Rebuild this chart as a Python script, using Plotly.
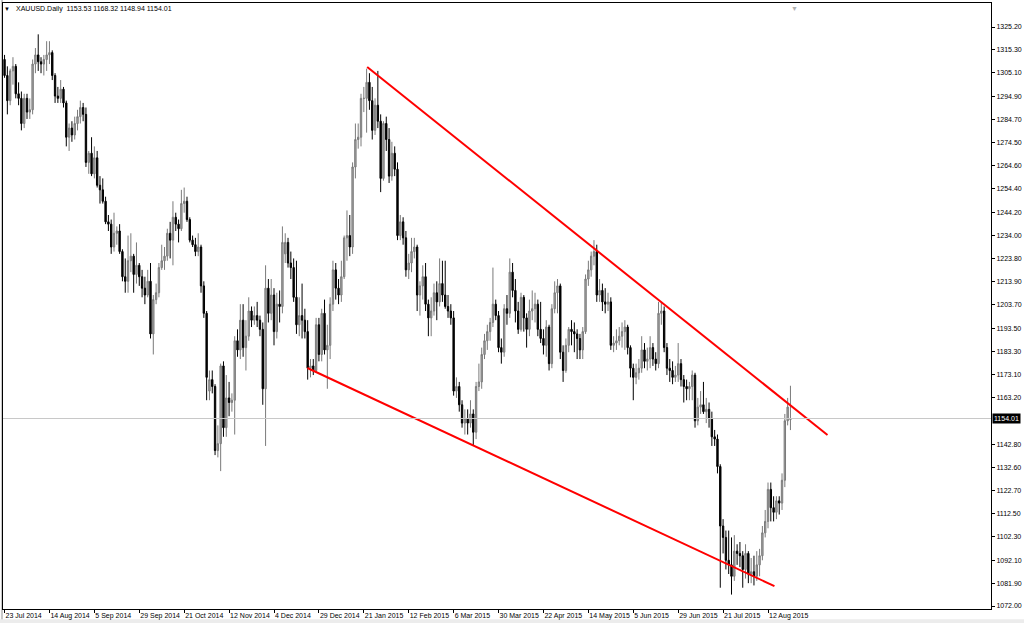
import plotly.graph_objects as go

# XAUUSD daily candles, 23 Jul 2014 .. 24 Aug 2015 (bar index = trading day)
open_ = [
    1311, 1304, 1293, 1306, 1308, 1296, 1294, 1283, 1294, 1288,
    1289, 1309, 1313, 1310, 1309, 1311, 1313, 1314, 1304, 1295,
    1294, 1298, 1292, 1277, 1281, 1278, 1283, 1286, 1290, 1287,
    1266, 1270, 1261, 1268, 1256, 1254, 1249, 1240, 1239, 1229,
    1235, 1236, 1227, 1216, 1214, 1223, 1225, 1217, 1221, 1216,
    1211, 1208, 1214, 1191, 1206, 1209, 1220, 1223, 1225, 1235,
    1232, 1242, 1239, 1237, 1248, 1249, 1241, 1232, 1230, 1227,
    1229, 1212, 1200, 1166, 1171, 1168, 1140, 1143, 1177, 1150,
    1163, 1161, 1162, 1188, 1184, 1197, 1185, 1190, 1201, 1197,
    1199, 1197, 1193, 1167, 1211, 1200, 1208, 1192, 1204, 1203,
    1226, 1231, 1222, 1220, 1207, 1195, 1199, 1197, 1192, 1176,
    1177, 1175, 1195, 1182, 1200, 1184, 1186, 1204, 1219, 1211,
    1208, 1216, 1233, 1234, 1229, 1264, 1276, 1277, 1294, 1294,
    1301, 1293, 1280, 1291, 1284, 1259, 1283, 1276, 1260, 1270,
    1263, 1234, 1240, 1233, 1219, 1222, 1227, 1229, 1208, 1212,
    1216, 1204, 1198, 1201, 1209, 1205, 1213, 1208, 1203, 1201,
    1198, 1166, 1168, 1160, 1152, 1154, 1152, 1156, 1148, 1168,
    1170, 1182, 1188, 1192, 1196, 1204, 1199, 1185, 1183, 1202,
    1200, 1218, 1210, 1201, 1193, 1207, 1198, 1193, 1201, 1202,
    1204, 1193, 1189, 1186, 1194, 1178, 1202, 1209, 1212, 1183,
    1175, 1186, 1193, 1192, 1191, 1189, 1184, 1192, 1215, 1219,
    1225, 1227, 1208, 1210, 1205, 1204, 1205, 1186, 1187, 1188,
    1190, 1192, 1194, 1185, 1176, 1172, 1174, 1176, 1184, 1179,
    1180, 1185, 1180, 1178, 1200, 1201, 1185, 1176, 1175, 1172,
    1173, 1178, 1171, 1168, 1167, 1168, 1173, 1153, 1159, 1160,
    1157, 1158, 1154, 1146, 1145, 1133, 1107, 1102, 1092, 1090,
    1085, 1096, 1095, 1094, 1088, 1095, 1086, 1087, 1085, 1090,
    1094, 1104, 1109, 1123, 1115, 1113, 1118, 1117, 1127, 1153,
    1153.53,
]
high = [
    1313, 1308, 1307, 1312, 1309, 1301, 1297, 1296, 1296, 1294,
    1311, 1316, 1322, 1312, 1313, 1319, 1319, 1315, 1305, 1299,
    1302, 1299, 1293, 1283, 1284, 1286, 1289, 1293, 1292, 1290,
    1271, 1277, 1273, 1271, 1260, 1259, 1251, 1243, 1241, 1244,
    1238, 1239, 1228, 1224, 1234, 1235, 1226, 1231, 1222, 1219,
    1216, 1219, 1222, 1208, 1213, 1222, 1230, 1229, 1237, 1240,
    1249, 1244, 1241, 1254, 1255, 1251, 1242, 1234, 1233, 1235,
    1230, 1214, 1201, 1175, 1175, 1169, 1151, 1178, 1179, 1173,
    1170, 1165, 1190, 1193, 1204, 1204, 1197, 1207, 1203, 1203,
    1205, 1199, 1196, 1221, 1215, 1215, 1211, 1209, 1210, 1238,
    1235, 1233, 1227, 1224, 1223, 1207, 1213, 1202, 1197, 1180,
    1180, 1198, 1198, 1202, 1206, 1195, 1207, 1223, 1222, 1215,
    1223, 1234, 1245, 1243, 1266, 1283, 1283, 1296, 1299, 1307,
    1305, 1299, 1294, 1306, 1287, 1284, 1286, 1281, 1275, 1273,
    1266, 1243, 1242, 1236, 1226, 1233, 1233, 1230, 1214, 1221,
    1222, 1206, 1207, 1213, 1214, 1224, 1223, 1223, 1208, 1204,
    1201, 1172, 1170, 1162, 1158, 1158, 1162, 1158, 1170, 1178,
    1185, 1191, 1195, 1198, 1220, 1206, 1201, 1189, 1204, 1208,
    1224, 1222, 1215, 1205, 1209, 1208, 1200, 1206, 1210, 1209,
    1206, 1205, 1193, 1197, 1195, 1204, 1214, 1215, 1213, 1186,
    1189, 1194, 1197, 1196, 1193, 1191, 1194, 1217, 1223, 1227,
    1232, 1230, 1215, 1213, 1211, 1209, 1207, 1190, 1193, 1194,
    1196, 1197, 1195, 1186, 1178, 1178, 1180, 1190, 1187, 1185,
    1190, 1187, 1183, 1205, 1205, 1203, 1187, 1180, 1179, 1177,
    1187, 1180, 1173, 1171, 1170, 1175, 1174, 1163, 1166, 1170,
    1163, 1161, 1157, 1149, 1147, 1134, 1110, 1105, 1105, 1102,
    1103, 1099, 1100, 1096, 1099, 1096, 1093, 1094, 1096, 1097,
    1107, 1114, 1126, 1126, 1120, 1120, 1120, 1130, 1156, 1163,
    1168.32,
]
low = [
    1303, 1287, 1291, 1300, 1294, 1291, 1280, 1281, 1285, 1285,
    1287, 1305, 1306, 1305, 1304, 1306, 1309, 1302, 1292, 1292,
    1292, 1290, 1273, 1271, 1275, 1276, 1280, 1283, 1284, 1264,
    1261, 1260, 1259, 1255, 1248, 1248, 1239, 1236, 1226, 1227,
    1230, 1226, 1214, 1209, 1209, 1218, 1209, 1213, 1212, 1207,
    1204, 1207, 1189, 1182, 1204, 1207, 1219, 1219, 1223, 1224,
    1221, 1236, 1231, 1236, 1244, 1240, 1231, 1229, 1225, 1225,
    1209, 1198, 1162, 1162, 1165, 1138, 1137, 1131, 1146, 1146,
    1155, 1157, 1147, 1181, 1180, 1181, 1175, 1188, 1194, 1195,
    1194, 1190, 1160, 1142, 1196, 1197, 1186, 1189, 1196, 1200,
    1222, 1220, 1215, 1205, 1191, 1190, 1189, 1189, 1171, 1172,
    1173, 1174, 1179, 1179, 1182, 1167, 1180, 1201, 1206, 1204,
    1205, 1215, 1223, 1225, 1226, 1259, 1272, 1273, 1288, 1279,
    1289, 1276, 1278, 1281, 1253, 1258, 1271, 1257, 1258, 1260,
    1232, 1232, 1230, 1216, 1215, 1218, 1224, 1201, 1199, 1206,
    1201, 1190, 1190, 1199, 1197, 1203, 1205, 1202, 1198, 1195,
    1164, 1163, 1157, 1150, 1147, 1147, 1150, 1142, 1145, 1166,
    1167, 1180, 1184, 1188, 1194, 1197, 1183, 1178, 1181, 1195,
    1198, 1207, 1196, 1191, 1192, 1192, 1185, 1190, 1197, 1196,
    1190, 1187, 1182, 1181, 1175, 1176, 1200, 1200, 1180, 1170,
    1174, 1183, 1186, 1183, 1180, 1180, 1180, 1191, 1212, 1216,
    1221, 1205, 1205, 1201, 1200, 1201, 1184, 1183, 1184, 1186,
    1185, 1184, 1182, 1172, 1162, 1169, 1171, 1174, 1176, 1175,
    1176, 1177, 1175, 1176, 1195, 1183, 1173, 1170, 1169, 1170,
    1170, 1168, 1161, 1162, 1162, 1162, 1150, 1151, 1156, 1156,
    1152, 1150, 1142, 1142, 1130, 1080, 1095, 1088, 1086, 1077,
    1083, 1090, 1089, 1080, 1084, 1082, 1082, 1081, 1083, 1085,
    1092, 1102, 1106, 1109, 1109, 1110, 1112, 1114, 1124, 1151,
    1148.94,
]
close = [
    1304, 1293, 1306, 1308, 1296, 1294, 1283, 1294, 1288, 1289,
    1309, 1313, 1310, 1309, 1311, 1313, 1314, 1304, 1295, 1294,
    1298, 1292, 1277, 1281, 1278, 1283, 1286, 1290, 1287, 1266,
    1270, 1261, 1268, 1256, 1254, 1249, 1240, 1239, 1229, 1235,
    1236, 1227, 1216, 1214, 1223, 1225, 1217, 1221, 1216, 1211,
    1208, 1214, 1191, 1206, 1209, 1220, 1223, 1225, 1235, 1232,
    1242, 1239, 1237, 1248, 1249, 1241, 1232, 1230, 1227, 1229,
    1212, 1200, 1172, 1171, 1168, 1140, 1143, 1177, 1150, 1163,
    1161, 1162, 1188, 1184, 1197, 1185, 1190, 1201, 1197, 1199,
    1197, 1193, 1167, 1211, 1200, 1208, 1192, 1204, 1203, 1231,
    1231, 1222, 1220, 1207, 1195, 1199, 1197, 1192, 1176, 1177,
    1175, 1195, 1182, 1200, 1184, 1186, 1204, 1219, 1211, 1208,
    1216, 1233, 1234, 1229, 1264, 1276, 1277, 1294, 1294, 1301,
    1293, 1280, 1291, 1284, 1259, 1283, 1276, 1260, 1270, 1263,
    1234, 1240, 1233, 1219, 1222, 1227, 1229, 1208, 1212, 1216,
    1204, 1198, 1201, 1209, 1205, 1213, 1208, 1203, 1201, 1198,
    1166, 1168, 1160, 1152, 1154, 1152, 1156, 1148, 1168, 1170,
    1182, 1188, 1192, 1196, 1204, 1199, 1185, 1183, 1202, 1200,
    1218, 1210, 1201, 1193, 1207, 1198, 1193, 1201, 1202, 1204,
    1193, 1189, 1186, 1194, 1178, 1202, 1209, 1212, 1183, 1175,
    1186, 1193, 1192, 1191, 1189, 1184, 1192, 1215, 1219, 1225,
    1227, 1208, 1210, 1205, 1204, 1205, 1186, 1187, 1188, 1190,
    1192, 1194, 1185, 1176, 1172, 1174, 1176, 1184, 1179, 1180,
    1185, 1180, 1178, 1200, 1201, 1185, 1176, 1175, 1172, 1173,
    1178, 1171, 1168, 1167, 1168, 1173, 1153, 1159, 1160, 1157,
    1158, 1154, 1146, 1145, 1133, 1107, 1102, 1092, 1090, 1085,
    1096, 1095, 1094, 1088, 1095, 1086, 1087, 1085, 1090, 1094,
    1104, 1109, 1123, 1115, 1113, 1118, 1117, 1127, 1153, 1159,
    1154.01,
]
bars = list(range(len(close)))

# date labels along the bottom (every 16th bar)
date_ticks = [0, 16, 32, 48, 64, 80, 96, 112, 128, 144, 160, 176, 192, 208, 224, 240, 256, 272]
date_labels = ["23 Jul 2014", "14 Aug 2014", "5 Sep 2014", "29 Sep 2014", "21 Oct 2014",
               "12 Nov 2014", "4 Dec 2014", "29 Dec 2014", "21 Jan 2015", "12 Feb 2015",
               "6 Mar 2015", "30 Mar 2015", "22 Apr 2015", "14 May 2015", "5 Jun 2015",
               "29 Jun 2015", "21 Jul 2015", "12 Aug 2015"]

# price scale on the right
price_ticks = [1325.20, 1315.30, 1305.10, 1294.90, 1284.70, 1274.50, 1264.60, 1254.40,
               1244.20, 1234.00, 1223.80, 1213.90, 1203.70, 1193.50, 1183.30, 1173.10,
               1163.20, 1142.80, 1132.60, 1122.70, 1112.50, 1102.30, 1092.10, 1081.90,
               1072.00]

# hand-drawn trend lines (bar, price)
upper_x = [129.2, 293.2]
upper_y = [1307.7, 1146.8]
lower_x = [107.9, 274.3]
lower_y = [1176.1, 1080.7]

last_price = close[-1]
font_name = "Liberation Sans"

fig = go.Figure()

fig.add_trace(go.Candlestick(
    x=bars, open=open_, high=high, low=low, close=close,
    increasing=dict(line=dict(color='#7a7a7a', width=1), fillcolor='#a8a8a8'),
    decreasing=dict(line=dict(color='#000000', width=1), fillcolor='#000000'),
    whiskerwidth=0,
    showlegend=False,
    hoverinfo='skip'
))

for xs, ys in [(upper_x, upper_y), (lower_x, lower_y)]:
    fig.add_trace(go.Scatter(
        x=xs, y=ys, mode='lines',
        line=dict(color='#ff0000', width=2),
        showlegend=False, hoverinfo='skip'
    ))

# current price line
fig.add_shape(type='line', xref='paper', x0=0, x1=1, yref='y', y0=last_price, y1=last_price,
              line=dict(color='#c8c8c8', width=1))

# window frame: grey strip on the left and along the bottom
fig.add_shape(type='rect', xref='paper', yref='paper', x0=-0.0021, x1=0, y0=-0.03, y1=1.01,
              line=dict(width=0), fillcolor='#c8c8c8', layer='below')
fig.add_shape(type='rect', xref='paper', yref='paper', x0=-0.01, x1=1.04, y0=-0.03, y1=-0.0170,
              line=dict(width=0), fillcolor='#ececec', layer='below')

fig.add_annotation(
    xref='paper', yref='paper', x=0.011, y=0.990, xanchor='left', yanchor='middle',
    text='XAUUSD.Daily\u00a0\u00a01153.53 1168.32 1148.94 1154.01',
    showarrow=False, font=dict(family=font_name, size=7, color='#000000')
)
fig.add_annotation(
    xref='paper', yref='paper', x=0.0045, y=0.990, xanchor='center', yanchor='middle',
    text='\u25bc', showarrow=False, font=dict(family=font_name, size=6, color='#000000')
)
fig.add_annotation(
    xref='paper', yref='paper', x=0.801, y=1.0, xanchor='center', yanchor='top',
    text='\u25bc', showarrow=False, font=dict(family=font_name, size=7, color='#b0b0b0')
)
fig.add_annotation(
    xref='paper', yref='y', x=1, y=last_price, xanchor='left', yanchor='middle', xshift=1,
    text=f'{last_price:.2f}', showarrow=False, bgcolor='#000000', borderpad=1,
    font=dict(family=font_name, size=7, color='#ffffff')
)

fig.update_layout(
    width=1024, height=623,
    margin=dict(l=2, r=32, t=3, b=14),
    paper_bgcolor='#ffffff',
    plot_bgcolor='#ffffff',
    font=dict(family=font_name, size=7, color='#000000'),
    xaxis=dict(
        range=[-0.55, 351.45],
        tickvals=date_ticks, ticktext=date_labels,
        tickangle=0,
        ticks='outside', ticklen=3, tickcolor='#000000',
        ticklabelposition='outside right',
        tickfont=dict(family=font_name, size=7),
        showgrid=False, zeroline=False,
        showline=True, linecolor='#000000', linewidth=1, mirror=True,
        rangeslider=dict(visible=False)
    ),
    yaxis=dict(
        side='right',
        range=[1070.7, 1335.7],
        tickvals=price_ticks, ticktext=[f'{p:.2f}' for p in price_ticks],
        ticks='outside', ticklen=3, tickcolor='#000000',
        tickfont=dict(family=font_name, size=7),
        showgrid=False, zeroline=False,
        showline=True, linecolor='#000000', linewidth=1, mirror=True
    )
)

# the page's default body margin would shift the figure; remove it
fig.write_html("out.html", config={'displayModeBar': False},
               post_script="document.body.style.margin='0';")
